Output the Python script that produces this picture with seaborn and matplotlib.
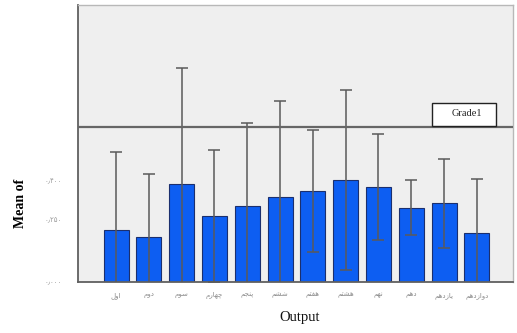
import matplotlib
matplotlib.use("Agg")
import matplotlib.pyplot as plt
import matplotlib.patches as mpatches
import seaborn as sns
import pandas as pd

# ---- data ----
categories = ["اول", "دوم", "سوم", "چهارم", "پنجم", "ششم",
              "هفتم", "هشتم", "نهم", "دهم", "یازدهم", "دوازدهم"]
means = [0.210, 0.183, 0.394, 0.266, 0.308, 0.341,
         0.367, 0.411, 0.384, 0.300, 0.317, 0.199]
err_half = [0.315, 0.254, 0.468, 0.265, 0.334, 0.389,
            0.247, 0.363, 0.214, 0.110, 0.181, 0.218]
ref_value = 0.625
ref_label = "Grade1"
ytick_values = [0.0, 0.25, 0.41, 0.5, 0.75, 1.0]
ytick_labels = ["۰٫۰۰۰", "۰٫۲۵۰", "۰٫۴۰۰", "", "", ""]
x_title = "Output"
y_title = "Mean of"

# ---- minimal Arabic-script shaping for display (matplotlib has no shaping) ----
FORMS = {
    "ا": ("\uFE8D", "\uFE8E", None, None),
    "و": ("\uFEED", "\uFEEE", None, None),
    "د": ("\uFEA9", "\uFEAA", None, None),
    "ر": ("\uFEAD", "\uFEAE", None, None),
    "ز": ("\uFEAF", "\uFEB0", None, None),
    "ل": ("\uFEDD", "\uFEDE", "\uFEDF", "\uFEE0"),
    "م": ("\uFEE1", "\uFEE2", "\uFEE3", "\uFEE4"),
    "س": ("\uFEB1", "\uFEB2", "\uFEB3", "\uFEB4"),
    "ش": ("\uFEB5", "\uFEB6", "\uFEB7", "\uFEB8"),
    "چ": ("\uFB7A", "\uFB7B", "\uFB7C", "\uFB7D"),
    "ج": ("\uFE9D", "\uFE9E", "\uFE9F", "\uFEA0"),
    "ه": ("\uFEE9", "\uFEEA", "\uFEEB", "\uFEEC"),
    "پ": ("\uFB56", "\uFB57", "\uFB58", "\uFB59"),
    "ن": ("\uFEE5", "\uFEE6", "\uFEE7", "\uFEE8"),
    "ف": ("\uFED1", "\uFED2", "\uFED3", "\uFED4"),
    "ت": ("\uFE95", "\uFE96", "\uFE97", "\uFE98"),
    "ی": ("\uFBFC", "\uFBFD", "\uFBFE", "\uFBFF"),
}


def shape(word):
    out = []
    n = len(word)
    for i, c in enumerate(word):
        iso, fin, ini, med = FORMS[c]
        prev = word[i - 1] if i > 0 else None
        join_prev = prev is not None and FORMS[prev][2] is not None
        join_next = (i < n - 1) and ini is not None
        if join_prev and join_next:
            out.append(med)
        elif join_prev:
            out.append(fin)
        elif join_next:
            out.append(ini)
        else:
            out.append(iso)
    return "".join(reversed(out))


display_cats = [shape(c) for c in categories]
df = pd.DataFrame({"cat": display_cats, "mean": means})

sns.set_style("white")
fig = plt.figure(figsize=(5.17, 3.33), dpi=100)
ax = fig.add_axes([78 / 517, 51 / 333, 435 / 517, 277 / 333])
ax.set_facecolor("#efefef")

sns.barplot(data=df, x="cat", y="mean", order=display_cats, color="#0d5ef2",
            saturation=1, width=0.76, errorbar=None, edgecolor="#1b2f6e",
            linewidth=0.8, ax=ax)
ax.errorbar(x=list(range(len(means))), y=means, yerr=err_half, fmt="none",
            ecolor="#5a5a5a", elinewidth=1.1, capsize=4.3, capthick=1.1,
            zorder=5)
ax.axhline(ref_value, color="#666666", lw=1.6, zorder=6)

ax.set_xlim(-1.16, 12.1)
ax.set_ylim(0, 1.117)
ax.set_yticks(ytick_values)
ax.set_yticklabels(ytick_labels, fontsize=5, color="#9a9a9a",
                   family=["DejaVu Sans"])
ax.tick_params(axis="y", direction="out", length=3, width=0.8, color="#666666", pad=9)
ax.tick_params(axis="x", direction="out", length=3, width=0.8, color="#666666", pad=4)
for lab in ax.get_xticklabels():
    lab.set_fontsize(5)
    lab.set_color("#8a8a8a")
    lab.set_family(["DejaVu Sans"])
ax.set_xlabel("")
ax.set_ylabel("")

for side in ("left", "bottom"):
    ax.spines[side].set_color("#606060")
    ax.spines[side].set_linewidth(1.3)
for side in ("top", "right"):
    ax.spines[side].set_color("#b8b8b8")
    ax.spines[side].set_linewidth(1.0)
    ax.spines[side].set_visible(True)

# reference line label box
box = mpatches.Rectangle((432 / 517, (333 - 125.7) / 333), 64 / 517, 23 / 333,
                         transform=fig.transFigure, facecolor="white",
                         edgecolor="#222222", lw=1.0, zorder=10)
fig.add_artist(box)
fig.text(467 / 517, (333 - 113.5) / 333, ref_label, ha="center", va="center",
         fontsize=7.5, family="Liberation Serif", color="#222222", zorder=11)

fig.text(300 / 517, (333 - 318) / 333, x_title, ha="center", va="center",
         fontsize=10.5, family="Liberation Serif", color="#111111")
fig.text(20 / 517, (333 - 203) / 333, y_title, ha="center", va="center",
         rotation=90, fontsize=10, fontweight="heavy",
         family="Liberation Serif", color="#000000")

fig.savefig("out.png", dpi=100)
